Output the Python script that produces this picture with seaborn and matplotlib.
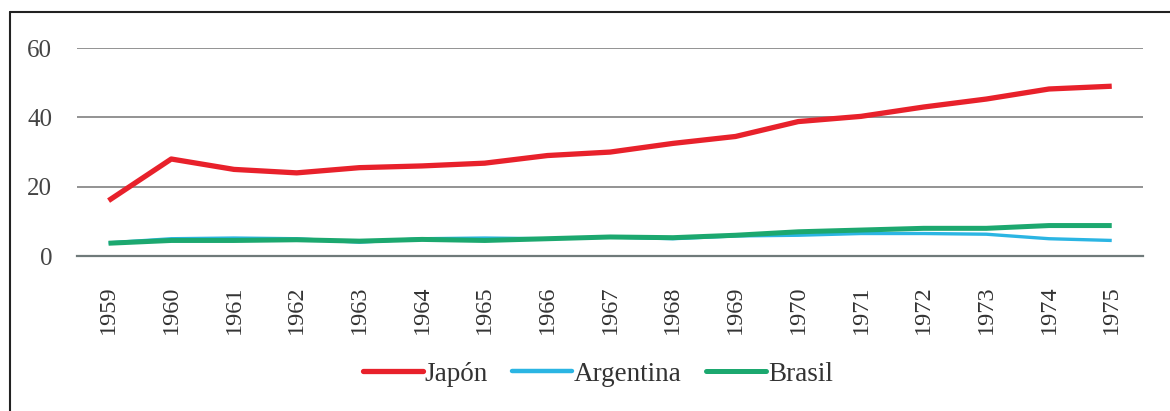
import matplotlib
matplotlib.use("Agg")
import matplotlib.pyplot as plt
import seaborn as sns
import pandas as pd
from matplotlib.lines import Line2D

years = ["1959", "1960", "1961", "1962", "1963", "1964", "1965", "1966", "1967",
         "1968", "1969", "1970", "1971", "1972", "1973", "1974", "1975"]
japon = [16, 28, 25, 24, 25.5, 26, 26.8, 29, 30, 32.5, 34.5, 38.8, 40.3, 43, 45.3, 48.2, 49]
argentina = [3.8, 5.0, 5.2, 5.0, 4.0, 5.0, 5.2, 5.0, 5.5, 5.0, 5.8, 6.0, 6.5, 6.5, 6.3, 5.0, 4.5]
brasil = [3.7, 4.5, 4.5, 4.7, 4.3, 4.8, 4.5, 5.0, 5.5, 5.3, 6.0, 7.0, 7.5, 8.0, 8.0, 8.8, 8.8]
series_names = ["Japón", "Argentina", "Brasil"]
colors = ["#e8212b", "#2bb5e3", "#1ca86f"]
widths = [3.8, 2.4, 3.6]

sns.set_theme(style="white")
plt.rcParams["font.family"] = ["Liberation Serif", "DejaVu Serif"]

df = pd.DataFrame({
    "year": years * 3,
    "value": japon + argentina + brasil,
    "serie": [series_names[0]] * len(years) + [series_names[1]] * len(years) + [series_names[2]] * len(years),
})

fig = plt.figure(figsize=(11.7, 4.11), dpi=100)
ax = fig.add_axes([0.066, 0.377, 0.911, 0.506])

for name, col, lw in zip(series_names, colors, widths):
    sub = df[df["serie"] == name]
    sns.lineplot(data=sub, x="year", y="value", color=col, linewidth=lw, ax=ax,
                 legend=False, sort=False, solid_capstyle="butt")

ax.set_xlim(-0.5, len(years) - 0.5)
ax.set_ylim(0, 60)
ax.set_yticks([0, 20, 40, 60])
ax.yaxis.grid(True, color="#8a8a8a", linewidth=1.3)
ax.set_axisbelow(True)
for s in ["top", "right", "left"]:
    ax.spines[s].set_visible(False)
ax.spines["bottom"].set_color("#6f7a7a")
ax.spines["bottom"].set_linewidth(1.6)
ax.set_xlabel("")
ax.set_ylabel("")
ax.tick_params(axis="x", rotation=90, labelsize=17.5, colors="#333333", length=0, pad=21)
ax.tick_params(axis="y", labelsize=18, colors="#444444", length=0, pad=18)

handles = [Line2D([0], [0], color=c, linewidth=lw if lw > 3 else 3.2) for c, lw in zip(colors, widths)]
fig.legend(handles, series_names, loc="center", bbox_to_anchor=(0.511, 0.09), ncol=3,
           frameon=False, fontsize=19.5, handlelength=2.2, handletextpad=0.08,
           columnspacing=0.9, labelcolor="#333333")

# outer frame (cut off on right and bottom like reference)
fig.add_artist(Line2D([0.0085, 0.0085], [0.0, 0.971], transform=fig.transFigure,
                      color="#222222", linewidth=1.5))
fig.add_artist(Line2D([0.0085, 1.0], [0.971, 0.971], transform=fig.transFigure,
                      color="#222222", linewidth=1.5))

fig.savefig("out.png", dpi=100, facecolor="white")
